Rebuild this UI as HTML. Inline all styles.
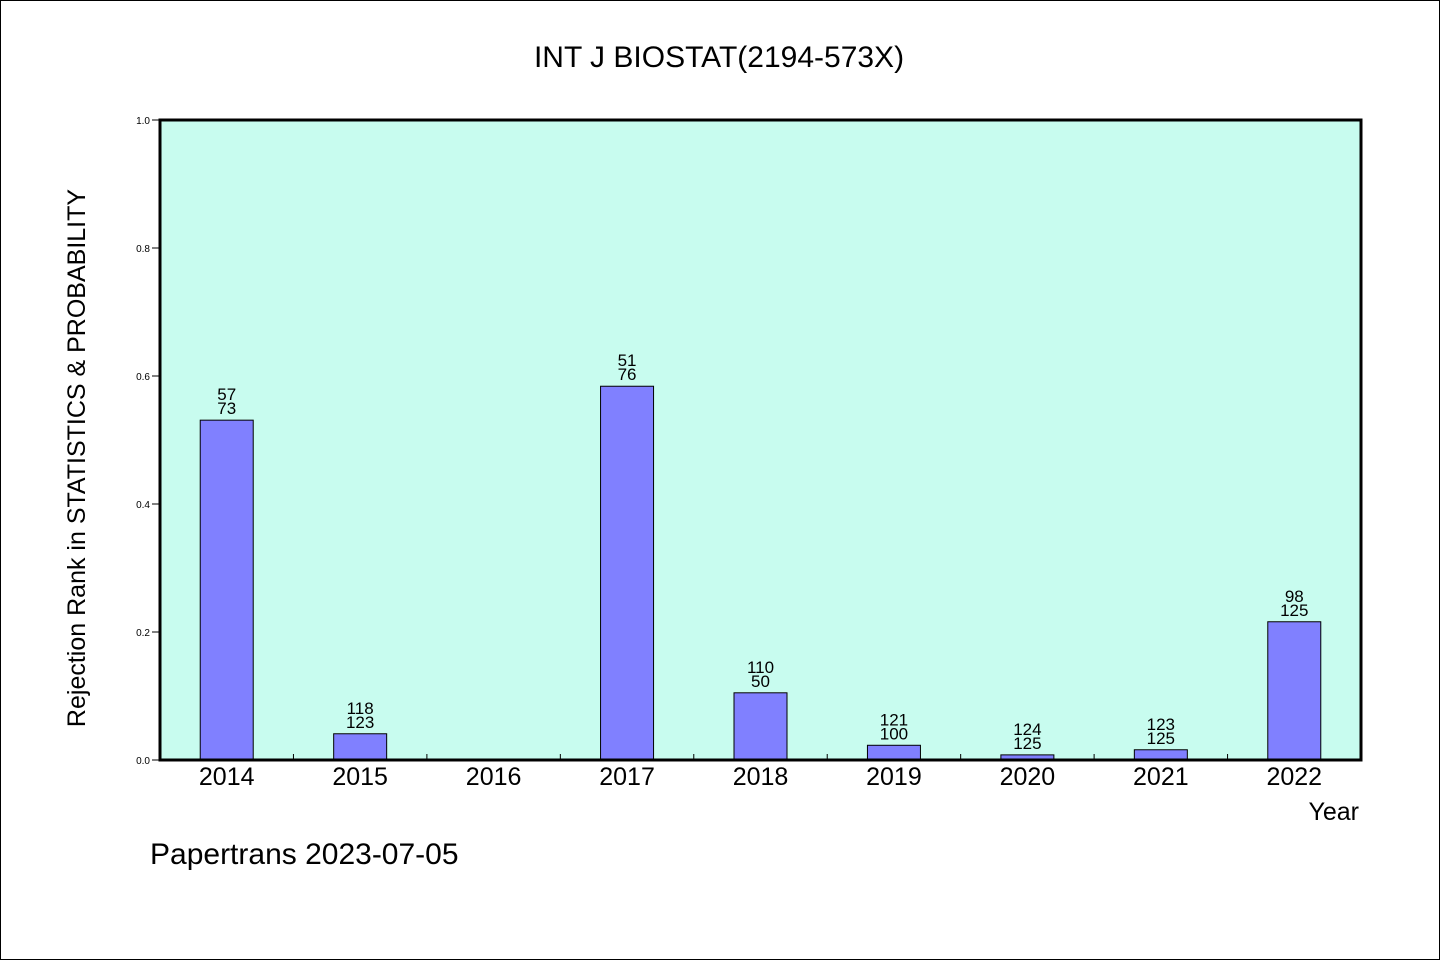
<!DOCTYPE html>
<html><head><meta charset="utf-8"><style>
body{margin:0;background:#fff}
svg text{font-family:"WenQuanYi Zen Hei","Liberation Sans",sans-serif;fill:#000}
</style></head><body>
<svg width="1440" height="960">
<rect x="0.5" y="0.5" width="1439" height="959" fill="#fff" stroke="#000"/>
<text x="719" y="67" font-size="30" text-anchor="middle">INT J BIOSTAT(2194-573X)</text>
<rect x="160" y="120" width="1201" height="640" fill="#c8fcef"/>
<g id="yt"></g><g id="bars"></g><g id="xt"></g>
<rect x="160" y="120" width="1201" height="640" fill="none" stroke="#000" stroke-width="3"/>
<text transform="translate(85,458) rotate(-90)" font-size="25" text-anchor="middle">Rejection Rank in STATISTICS &amp; PROBABILITY</text>
<text x="1359" y="820" font-size="25" text-anchor="end">Year</text>
<text x="150" y="864" font-size="30">Papertrans 2023-07-05</text>
</svg>
<script>
const categories=["2014","2015","2016","2017","2018","2019","2020","2021","2022"];
const values=[0.531,0.041,0,0.584,0.105,0.023,0.008,0.016,0.216];
const labelTop=["57","118","","51","110","121","124","123","98"];
const labelBottom=["73","123","","76","50","100","125","125","125"];
const yTicks=["0.0","0.2","0.4","0.6","0.8","1.0"];
const NS="http://www.w3.org/2000/svg";
const X0=160,W=1201,Y0=760,H=640,step=W/categories.length,bw=53;
const y=v=>Y0-v*H, xc=i=>X0+step*(i+0.5);
function mk(t,a,p,txt){const e=document.createElementNS(NS,t);for(const k in a)e.setAttribute(k,a[k]);if(txt!==undefined)e.textContent=txt;p.appendChild(e);return e;}
const yt=document.getElementById('yt'),bars=document.getElementById('bars'),xt=document.getElementById('xt');
yTicks.forEach(t=>{const v=parseFloat(t);
 const l=mk('line',{x1:152,x2:160,y1:y(v),y2:y(v),stroke:'#000'},yt);
 
 
 const tx=mk('text',{x:150,y:y(v)+4,'font-size':10,'text-anchor':'end'},yt,t);
 
 
});
categories.forEach((c,i)=>{
 if(i>0){const l=mk('line',{x1:X0+step*i,x2:X0+step*i,y1:Y0,y2:Y0-6,stroke:'#000'},xt);
  
  }
 const tx=mk('text',{x:xc(i),y:785,'font-size':25,'text-anchor':'middle'},xt,c);
 
 
 if(values[i]>0){
  const r=mk('rect',{x:xc(i)-bw/2,y:y(values[i]),width:bw,height:values[i]*H,fill:'#8080ff',stroke:'#000','stroke-width':1},bars);
  
  
 }
 if(labelTop[i]){
  const a=mk('text',{x:xc(i),y:y(values[i])-20,'font-size':17,'text-anchor':'middle'},bars,labelTop[i]);
  
  
  const b=mk('text',{x:xc(i),y:y(values[i])-6,'font-size':17,'text-anchor':'middle'},bars,labelBottom[i]);
  
  
 }
});
</script>
</body></html>
